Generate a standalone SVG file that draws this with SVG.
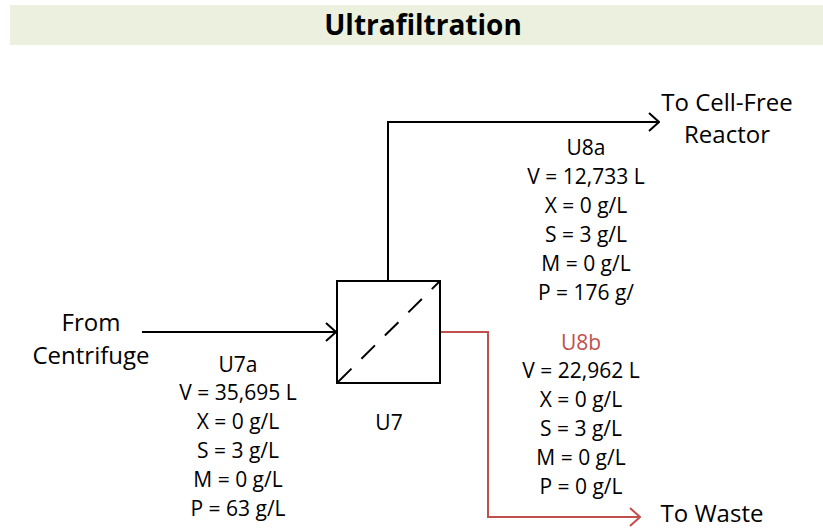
<svg xmlns="http://www.w3.org/2000/svg" width="823" height="528" viewBox="0 0 823 528">
<style>
text{font-family:"Open Sans","Noto Sans",sans-serif;font-size:21px;fill:#000;text-anchor:middle}
.title{font-weight:bold;font-size:28px}
.lbl{font-size:24px}
.red{fill:#c0504d}
.ln{fill:none;stroke:#000;stroke-width:2}
.rl{fill:none;stroke:#c0504d;stroke-width:2}
</style>
<defs>
<marker id="ab" markerWidth="12" markerHeight="20" refX="11" refY="10" orient="auto" markerUnits="userSpaceOnUse"><path d="M1,1 L11,10 L1,19" fill="none" stroke="#000" stroke-width="2"/></marker>
<marker id="ar" markerWidth="12" markerHeight="20" refX="11" refY="10" orient="auto" markerUnits="userSpaceOnUse"><path d="M1,1 L11,10 L1,19" fill="none" stroke="#c0504d" stroke-width="2"/></marker>
</defs>
<rect x="10" y="5" width="813" height="40" fill="#ebf1de"/>
<text class="title" x="423" y="35">Ultrafiltration</text>
<g id="connectors">
<path class="ln" d="M142,332 H336" marker-end="url(#ab)"/>
<path class="ln" d="M388,281 V122 H659" marker-end="url(#ab)"/>
<path class="rl" d="M440,332 H488 V517 H640" marker-end="url(#ar)"/>
</g>
<g id="U7">
<rect x="337" y="281" width="103" height="102" fill="#fff" stroke="#000" stroke-width="2"/>
<line x1="338" y1="382" x2="439" y2="282" stroke="#000" stroke-width="2" stroke-dasharray="19,14"/>
<text x="389" y="430">U7</text>
</g>
<g id="source">
<text class="lbl" x="91" y="331">From</text>
<text class="lbl" x="91" y="364">Centrifuge</text>
</g>
<g id="reactor">
<text class="lbl" x="727" y="111">To Cell-Free</text>
<text class="lbl" x="727" y="143">Reactor</text>
</g>
<g id="waste">
<text class="lbl" x="712" y="522">To Waste</text>
</g>
<g id="U7a">
<text x="238" y="372">U7a</text>
<text x="238" y="400">V = 35,695 L</text>
<text x="238" y="429">X = 0 g/L</text>
<text x="238" y="458">S = 3 g/L</text>
<text x="238" y="487">M = 0 g/L</text>
<text x="238" y="516">P = 63 g/L</text>
</g>
<g id="U8a">
<text x="586" y="155">U8a</text>
<text x="586" y="184">V = 12,733 L</text>
<text x="586" y="213">X = 0 g/L</text>
<text x="586" y="242">S = 3 g/L</text>
<text x="586" y="271">M = 0 g/L</text>
<text x="586" y="300">P = 176 g/</text>
</g>
<g id="U8b">
<text class="red" x="581" y="350">U8b</text>
<text x="581" y="378">V = 22,962 L</text>
<text x="581" y="407">X = 0 g/L</text>
<text x="581" y="436">S = 3 g/L</text>
<text x="581" y="465">M = 0 g/L</text>
<text x="581" y="494">P = 0 g/L</text>
</g>
</svg>
